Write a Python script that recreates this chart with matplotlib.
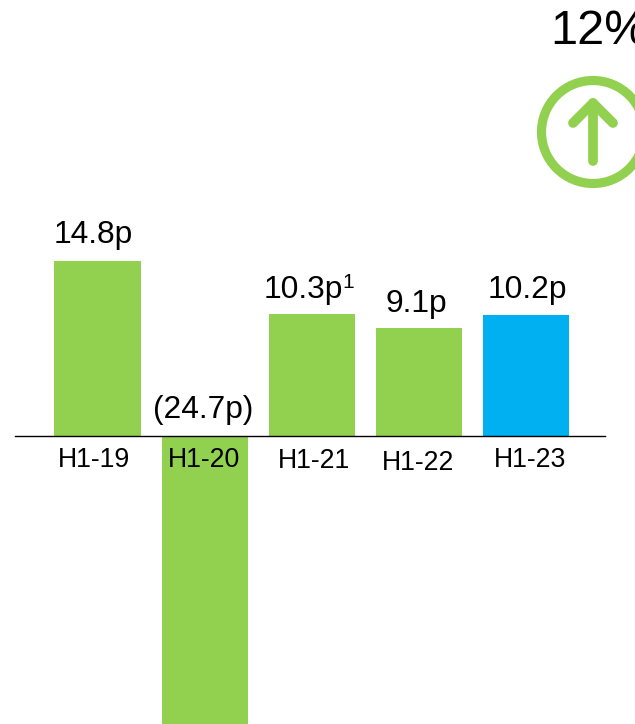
import matplotlib
matplotlib.use("Agg")
from matplotlib import pyplot as plt
from matplotlib.patches import Circle

plt.rcParams['font.family'] = ['Liberation Sans', 'DejaVu Sans']

periods = ['H1-19', 'H1-20', 'H1-21', 'H1-22', 'H1-23']
eps = [14.8, -24.7, 10.3, 9.1, 10.2]
value_labels = ['14.8p', '(24.7p)', '10.3p', '9.1p', '10.2p']
change_label = '12%'
footnote_mark = '1'

GREEN = '#92D050'
BLUE = '#00B0F0'
bar_colors = [GREEN, GREEN, GREEN, GREEN, BLUE]

W, H = 635, 724
# pixel layout of the page
BASE_Y = 436
PX_PER_P = 11.82
FIRST_X = 97.5
STEP_X = 107.2
value_pos = [(93.5, 243), (203.5, 418), (303.5, 298), (416.5, 312), (527.5, 298)]
tick_pos = [(94, 467), (204.5, 467), (313.5, 468), (418, 470), (530, 467)]

fig = plt.figure(figsize=(W / 100, H / 100), dpi=100, facecolor='white')

ax = fig.add_axes([0, 0, 1, 1])
ax.set_xlim(-FIRST_X / STEP_X, (W - FIRST_X) / STEP_X)
ax.set_ylim(-(H - BASE_Y) / PX_PER_P, BASE_Y / PX_PER_P)
ax.axis('off')
ax.bar(range(len(eps)), eps, width=0.805, color=bar_colors, linewidth=0, zorder=1)
ax.axhline(0, xmin=15 / W, xmax=605 / W, color='black', lw=1.0, zorder=2)

# text and the arrow badge are placed in pixels, y going down
page = fig.add_axes([0, 0, 1, 1])
page.set_xlim(0, W)
page.set_ylim(H, 0)
page.axis('off')
page.patch.set_alpha(0)

for label, (x, y) in zip(value_labels, value_pos):
    page.text(x, y, label, fontsize=22.9, ha='center', va='baseline', color='black')
for label, (x, y) in zip(periods, tick_pos):
    page.text(x, y, label, fontsize=19.2, ha='center', va='baseline', color='black')

page.text(342.5, 288, footnote_mark, fontsize=15, ha='left', va='baseline', color='black')
page.text(550, 44, change_label, fontsize=35, ha='left', va='baseline', color='black', clip_on=False)

page.add_patch(Circle((593, 132), 51.5, fill=False, edgecolor=GREEN, lw=6.6))
page.plot([593, 593], [103, 161], color=GREEN, lw=7, solid_capstyle='round')
page.plot([573, 593, 613], [123, 103, 123], color=GREEN, lw=7,
          solid_capstyle='round', solid_joinstyle='round')

fig.savefig('out.png', dpi=100)
